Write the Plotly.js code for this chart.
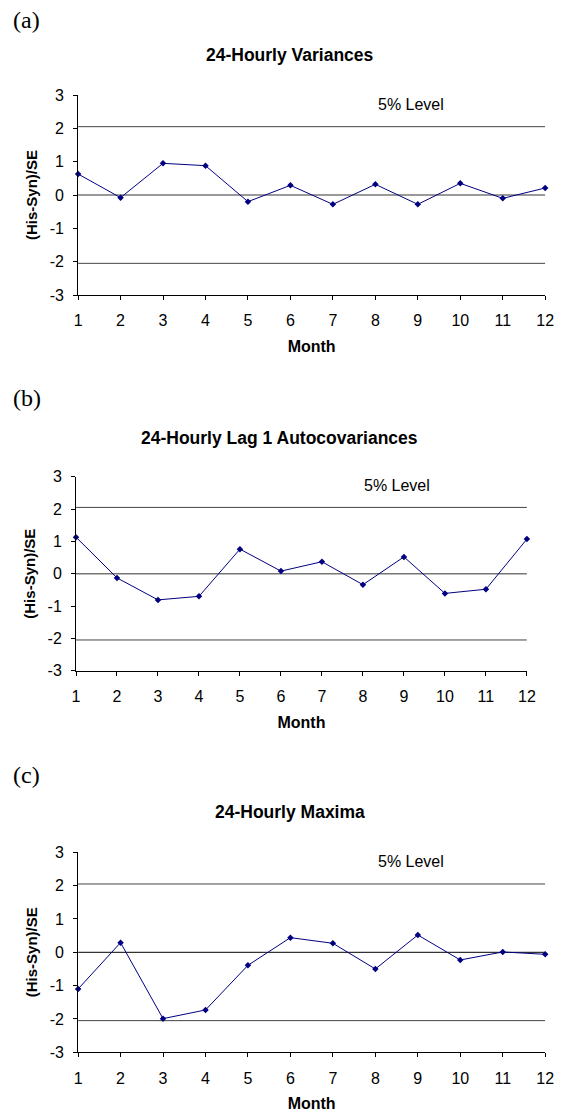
<!DOCTYPE html>
<html>
<head>
<meta charset="utf-8">
<script src="https://cdn.plot.ly/plotly-3.0.1.min.js"></script>
<style>html,body{margin:0;padding:0;background:#fff;}#chart{width:561px;height:1113px;}</style>
</head>
<body>
<div id="chart"></div>
<script>
const months = [1,2,3,4,5,6,7,8,9,10,11,12];
const yTicks = [-3,-2,-1,0,1,2,3];
const yTickText = ['-3','-2','-1','0','1','2','3'];
const variances = [0.63,-0.08,0.95,0.88,-0.20,0.29,-0.28,0.32,-0.28,0.35,-0.10,0.21];
const autocov = [1.13,-0.13,-0.81,-0.70,0.76,0.08,0.37,-0.34,0.52,-0.61,-0.48,1.07];
const maxima = [-1.10,0.29,-1.99,-1.73,-0.39,0.44,0.27,-0.50,0.52,-0.23,0.01,-0.06];
const level = 2.05;
const panelTitles = ['24-Hourly Variances','24-Hourly Lag 1 Autocovariances','24-Hourly Maxima'];
const panelLabels = ['(a)','(b)','(c)'];
const series = [variances, autocov, maxima];

const W = 561, H = 1113;
const boxes = [
  {x0:78.1, x1:545.2, y0:95, y1:295, tx:289.6, title:55, lab:20},
  {x0:76.0, x1:526.9, y0:476.7, y1:670.7, tx:279.6, title:438.3, lab:398},
  {x0:78.1, x1:545.2, y0:852.3, y1:1052.3, tx:289.6, title:811.7, lab:775}
];
const FAM = 'Liberation Sans, Arial, sans-serif';
const font = {family:FAM, size:16, color:'#000'};
const traces = [];
const layout = {
  width:W, height:H, margin:{l:0,r:0,t:0,b:0},
  paper_bgcolor:'#fff', plot_bgcolor:'#fff', showlegend:false,
  font:font, annotations:[]
};
series.forEach((vals, i) => {
  const sfx = i === 0 ? '' : String(i+1);
  const b = boxes[i];
  const xa = 'x'+sfx, ya = 'y'+sfx;
  [level, 0, -level].forEach(v => {
    traces.push({x:[months[0], months[months.length-1]], y:[v, v], xaxis:xa, yaxis:ya,
      mode:'lines', line:{color: v===0 ? (i===2 ? '#000' : '#777') : '#444', width: v===0 && i!==2 ? 1.5 : 1}, hoverinfo:'skip'});
  });
  traces.push({x:months, y:vals, xaxis:xa, yaxis:ya, mode:'lines+markers',
    line:{color:'#000080', width:1}, marker:{symbol:'diamond', size:5, color:'#000080'},
    cliponaxis:false});
  layout['xaxis'+sfx] = {
    domain:[b.x0/W, b.x1/W], anchor:ya, range:[1,12], tickvals:months,
    ticks:'outside', ticklen:4, tickcolor:'#000', showline:true, linecolor:'#000', linewidth:1,
    showgrid:false, zeroline:false, tickfont:font, ticklabelstandoff:7,
    title:{text:'<b>Month</b>', font:{family:FAM, size:16, color:'#000'}, standoff:12}
  };
  layout['yaxis'+sfx] = {
    domain:[1-b.y1/H, 1-b.y0/H], anchor:xa, range:[-3,3], tickvals:yTicks, ticktext:yTickText,
    ticks:'outside', ticklen:4, tickcolor:'#000', showline:true, linecolor:'#000', linewidth:1,
    showgrid:false, zeroline:false, tickfont:font, ticklabelstandoff:6,
    title:{text:'<b>(His-Syn)/SE</b>', font:{family:FAM, size:15, color:'#000'}, standoff:8}
  };
  layout.annotations.push({xref:'paper', yref:'paper', x:b.tx/W, y:1-b.title/H,
    text:'<b>'+panelTitles[i]+'</b>', showarrow:false, font:{family:FAM, size:17.5, color:'#000'},
    xanchor:'center', yanchor:'middle'});
  layout.annotations.push({xref:'paper', yref:'paper', x:11/W, y:1-b.lab/H,
    text:panelLabels[i], showarrow:false, font:{family:'Liberation Serif, Times New Roman, serif', size:24, color:'#000'},
    xanchor:'left', yanchor:'middle'});
  layout.annotations.push({xref:xa, yref:ya, x:8.83, y:2.72, text:'5% Level', showarrow:false,
    font:font, xanchor:'center', yanchor:'middle'});
});
Plotly.newPlot('chart', traces, layout, {displayModeBar:false, staticPlot:true});
</script>
</body>
</html>
